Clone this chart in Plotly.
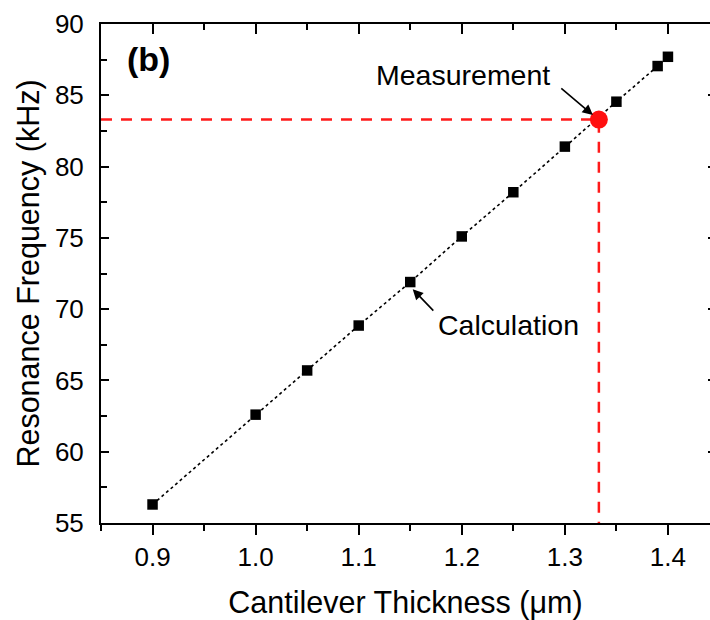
import plotly.graph_objects as go

# Calculated resonance frequency vs. cantilever thickness
thickness_um = [0.9, 1.0, 1.05, 1.1, 1.15, 1.2, 1.25, 1.3, 1.35, 1.39, 1.4]
freq_khz = [56.3, 62.6, 65.7, 68.85, 71.9, 75.1, 78.2, 81.4, 84.55, 87.05, 87.7]

# Measured point
meas_thickness = 1.333
meas_freq = 83.3

# Axis settings
x_range = [0.85, 1.4408]
y_range = [55, 90]
x_ticks = [0.9, 1.0, 1.1, 1.2, 1.3, 1.4]
y_ticks = [55, 60, 65, 70, 75, 80, 85, 90]

FONT = "Liberation Sans, Arial, sans-serif"

fig = go.Figure()

# guide lines from the measurement to the axes
fig.add_trace(go.Scatter(
    x=[x_range[0], meas_thickness, meas_thickness],
    y=[meas_freq, meas_freq, y_range[0]],
    mode="lines",
    line=dict(color="#ff1a1a", width=2.5, dash="11px,9px"),
    hoverinfo="skip", showlegend=False,
))

# calculation curve
fig.add_trace(go.Scatter(
    x=thickness_um, y=freq_khz,
    mode="lines+markers",
    line=dict(color="black", width=1.6, dash="3px,3px"),
    marker=dict(symbol="square", size=10.5, color="black"),
    showlegend=False,
))

# measurement point
fig.add_trace(go.Scatter(
    x=[meas_thickness], y=[meas_freq],
    mode="markers",
    marker=dict(symbol="circle", size=18, color="#ff1010"),
    showlegend=False,
))

# mirrored axes (top and right, ticks pointing inward)
fig.add_trace(go.Scatter(x=[None], y=[None], xaxis="x2", yaxis="y2",
                         showlegend=False, hoverinfo="skip"))

fig.update_layout(
    width=710, height=620,
    margin=dict(l=101, r=0, t=24, b=97),
    paper_bgcolor="white", plot_bgcolor="white",
    font=dict(family=FONT, color="black", size=26),
    xaxis=dict(
        range=x_range, tickvals=x_ticks, tickformat=".1f",
        ticks="outside", ticklen=10, tickwidth=2, tickcolor="black",
        minor=dict(dtick=0.05, tick0=0.85, ticks="outside", ticklen=6,
                   tickwidth=2, tickcolor="black", showgrid=False),
        showline=True, linewidth=2, linecolor="black",
        showgrid=False, zeroline=False,
        tickfont=dict(size=26),
        title=dict(text="Cantilever Thickness (\u03bcm)",
                   font=dict(size=30.5), standoff=20),
    ),
    yaxis=dict(
        range=y_range, tickvals=y_ticks,
        ticks="inside", ticklen=8, tickwidth=2, tickcolor="black",
        minor=dict(dtick=2.5, tick0=55, ticks="inside", ticklen=6,
                   tickwidth=2, tickcolor="black", showgrid=False),
        showline=True, linewidth=2, linecolor="black",
        showgrid=False, zeroline=False,
        tickfont=dict(size=26), ticklabelstandoff=10,
        title=dict(text="Resonance Frequency (kHz)",
                   font=dict(size=30.5), standoff=6),
    ),
    xaxis2=dict(
        overlaying="x", side="top", range=x_range, tickvals=x_ticks,
        ticks="inside", ticklen=10, tickwidth=2, tickcolor="black",
        minor=dict(dtick=0.05, tick0=0.85, ticks="inside", ticklen=6,
                   tickwidth=2, tickcolor="black", showgrid=False),
        showticklabels=False, showline=True, linewidth=2, linecolor="black",
        showgrid=False, zeroline=False,
    ),
    yaxis2=dict(
        overlaying="y", side="right", range=y_range, tickvals=y_ticks,
        ticks="inside", ticklen=2, tickwidth=2, tickcolor="black",
        showticklabels=False, showline=False,
        showgrid=False, zeroline=False,
    ),
)

# panel label
fig.add_annotation(x=0.8961, y=87.54, xref="x", yref="y", text="<b>(b)</b>",
                   showarrow=False, font=dict(size=34, family=FONT))

# labels with arrows
fig.add_annotation(x=1.2015, y=86.42, xref="x", yref="y", text="Measurement",
                   showarrow=False, font=dict(size=28.5, family=FONT))
fig.add_annotation(x=1.3272, y=83.61, ax=1.2951, ay=85.58,
                   xref="x", yref="y", axref="x", ayref="y", text="",
                   showarrow=True, arrowhead=2, arrowsize=1.3, arrowwidth=1.6,
                   arrowcolor="black")

fig.add_annotation(x=1.2456, y=68.88, xref="x", yref="y", text="Calculation",
                   showarrow=False, font=dict(size=28.5, family=FONT))
fig.add_annotation(x=1.1524, y=71.40, ax=1.1738, ay=69.79,
                   xref="x", yref="y", axref="x", ayref="y", text="",
                   showarrow=True, arrowhead=2, arrowsize=1.3, arrowwidth=1.6,
                   arrowcolor="black")

fig.write_html("out.html")
